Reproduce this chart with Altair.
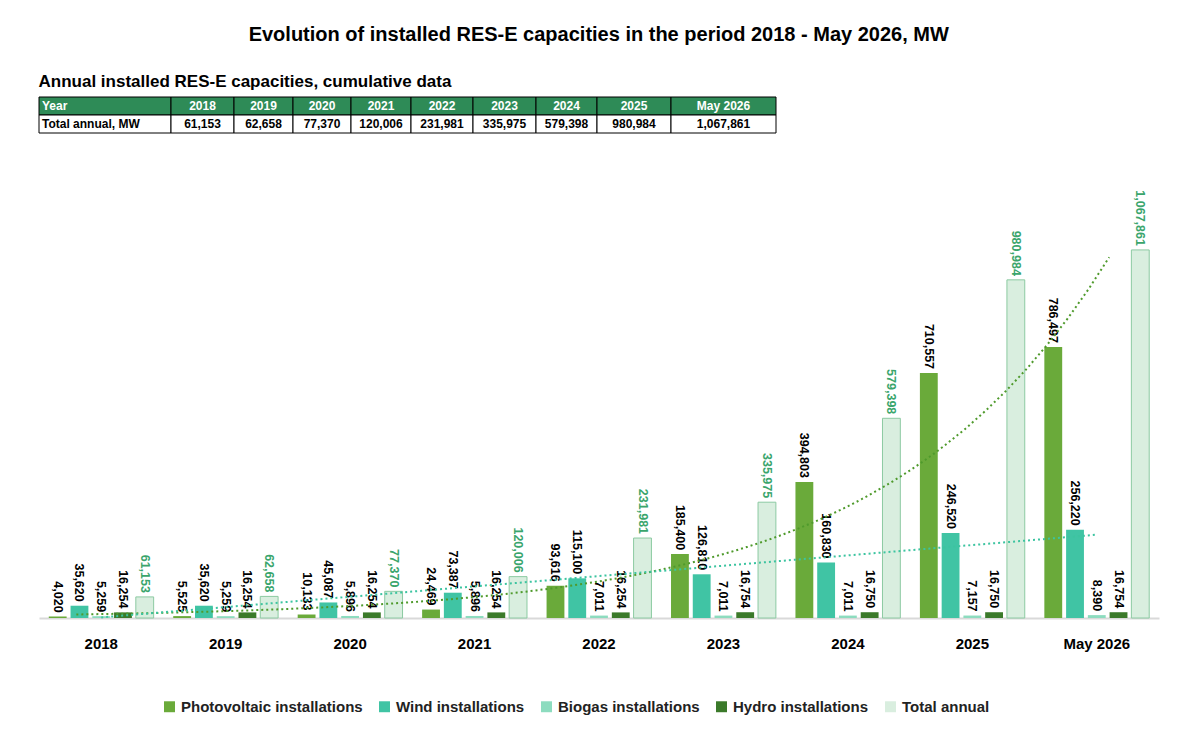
import pandas as pd
import altair as alt

# data
years = ['2018', '2019', '2020', '2021', '2022', '2023', '2024', '2025', 'May 2026']
pv = [4020, 5525, 10133, 24469, 93616, 185400, 394803, 710557, 786497]
wind = [35620, 35620, 45087, 73387, 115100, 126810, 160830, 246520, 256220]
biogas = [5259, 5259, 5896, 5896, 7011, 7011, 7011, 7157, 8390]
hydro = [16254, 16254, 16254, 16254, 16254, 16754, 16750, 16750, 16754]
total = [61153, 62658, 77370, 120006, 231981, 335975, 579398, 980984, 1067861]

series = ['Photovoltaic installations', 'Wind installations', 'Biogas installations',
          'Hydro installations', 'Total annual']
colors = ['#6aaa3a', '#40c4a4', '#8ddcbf', '#3b7a2a', '#d9eedf']
values = [pv, wind, biogas, hydro, total]

rows = []
for s, vals in zip(series, values):
    for i, (y, v) in enumerate(zip(years, vals)):
        rows.append({'year': y, 'idx': i, 'series': s, 'value': v,
                     'label': f'{v:,}'})
df = pd.DataFrame(rows)

FONT = 'Liberation Sans'

# ---- table ----
col_w = [132, 63, 59, 58, 60, 62, 63, 61, 74, 105]
edges = [0]
for w in col_w:
    edges.append(edges[-1] + w)
head = ['Year'] + years
vals_row = ['Total annual, MW'] + [f'{v:,}' for v in total]
cells = []
for c in range(len(head)):
    for r, txt in enumerate([head, vals_row]):
        cells.append({'x0': edges[c], 'x1': edges[c + 1], 'row': r, 'txt': txt[c],
                      'left': c == 0})
tdf = pd.DataFrame(cells)
tw = edges[-1]

xs = alt.X('x0:Q', scale=alt.Scale(domain=[0, tw]), axis=None)
ys = alt.Y('row:O', scale=alt.Scale(paddingInner=0, paddingOuter=0), axis=None)
cells_c = alt.Chart(tdf).mark_rect(stroke='black', strokeWidth=1).encode(
    x=xs, x2='x1:Q', y=ys,
    color=alt.condition('datum.row == 0', alt.value('#2e8b57'), alt.value('white'))
)
txt_c = alt.Chart(tdf).transform_filter('!datum.left').transform_calculate(
    xm='(datum.x0 + datum.x1) / 2').mark_text(
    font=FONT, fontSize=12, fontWeight='bold').encode(
    x=alt.X('xm:Q', scale=alt.Scale(domain=[0, tw]), axis=None), y=ys, text='txt:N',
    color=alt.condition('datum.row == 0', alt.value('white'), alt.value('black'))
)
lab_c = alt.Chart(tdf).transform_filter('datum.left').mark_text(
    font=FONT, fontSize=12, fontWeight='bold', align='left', dx=3).encode(
    x=xs, y=ys, text='txt:N',
    color=alt.condition('datum.row == 0', alt.value('white'), alt.value('black'))
)
table = alt.layer(cells_c, txt_c, lab_c).properties(
    width=tw, height=36,
    title=alt.TitleParams('Annual installed RES-E capacities, cumulative data',
                          anchor='start', fontSize=17, font=FONT, fontWeight='bold',
                          offset=6)
)

# ---- main chart ----
ydom = [0, 1320000]
band_scale = alt.Scale(paddingInner=0, paddingOuter=0)
xband = alt.X('year:N', sort=years, title=None, scale=band_scale,
              axis=alt.Axis(labelFont=FONT, labelFontSize=15, labelFontWeight='bold',
                            labelColor='black', ticks=False, labelAngle=0,
                            labelPadding=18, domainColor='#d9d9d9', domainWidth=2))
xband_noaxis = alt.X('year:N', sort=years, title=None, scale=band_scale, axis=None)
xoff = alt.XOffset('series:N', sort=series,
                   scale=alt.Scale(paddingInner=0.18, paddingOuter=0.45))
yq = alt.Y('value:Q', scale=alt.Scale(domain=ydom), axis=None)

bars = alt.Chart(df).mark_bar(strokeWidth=1).encode(
    x=xband, xOffset=xoff, y=yq,
    color=alt.Color('series:N', sort=series,
                    scale=alt.Scale(domain=series, range=colors),
                    legend=alt.Legend(orient='none', direction='horizontal',
                                      legendX=123, legendY=602,
                                      title=None, symbolType='square',
                                      labelFont=FONT, labelFontSize=15, labelLimit=0,
                                      labelFontWeight='bold', labelColor='#222',
                                      symbolSize=120, columnPadding=14)),
    stroke=alt.condition('datum.series == "Total annual"', alt.value('#8ccaa2'),
                         alt.value(None))
)
labels = alt.Chart(df).mark_text(angle=90, align='right', baseline='middle', dx=-4,
                                 font=FONT, fontSize=12.5, fontWeight='bold').encode(
    x=xband_noaxis, xOffset=xoff, y=yq, text='label:N',
    color=alt.condition('datum.series == "Total annual"', alt.value('#3aa56c'),
                        alt.value('black'))
)

xlin = alt.X('idx:Q', scale=alt.Scale(domain=[-0.5, 8.5]), axis=None)
trend_pv = alt.Chart(df).transform_filter(
    'datum.series == "Photovoltaic installations"').transform_regression(
    'idx', 'value', method='exp', extent=[-0.2, 8.1]).mark_line(
    color='#4f9a2c', strokeDash=[2, 3], strokeWidth=2).encode(x=xlin, y=yq)
trend_wind = alt.Chart(df).transform_filter(
    'datum.series == "Wind installations"').transform_regression(
    'idx', 'value', method='linear', extent=[0, 8.0]).mark_line(
    color='#3cc4a0', strokeDash=[2, 3], strokeWidth=2).encode(x=xlin, y=yq)

main = alt.layer(bars, labels, trend_pv, trend_wind).resolve_scale(
    x='independent').properties(width=1120, height=455)

chart = alt.vconcat(table, main, spacing=29).properties(
    title=alt.TitleParams('Evolution of installed RES-E capacities in the period 2018 - May 2026, MW',
                          fontSize=20, font=FONT, fontWeight='bold', anchor='middle',
                          offset=28),
    padding={'left': 30, 'top': 16, 'right': 10, 'bottom': 5}
).configure_view(stroke=None)

chart.save("out.html", embed_options={"renderer": "svg", "actions": False})
